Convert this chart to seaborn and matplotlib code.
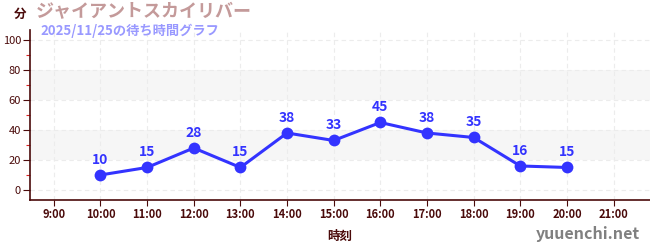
import matplotlib
matplotlib.use("Agg")
import matplotlib.pyplot as plt
import seaborn as sns
import pandas as pd
from matplotlib.ticker import MultipleLocator

hours = [10, 11, 12, 13, 14, 15, 16, 17, 18, 19, 20]
waits = [10, 15, 28, 15, 38, 33, 45, 38, 35, 16, 15]
tick_hours = list(range(9, 22))
tick_labels = [f"{h}:00" for h in tick_hours]
title = "ジャイアントスカイリバー"
subtitle = "2025/11/25の待ち時間グラフ"

sns.set_theme(style="white")
plt.rcParams['font.family'] = ['Noto Sans CJK JP', 'DejaVu Sans']

dark = "#4a0a0a"
blue = "#3333ff"

df = pd.DataFrame({"hour": hours, "wait": waits})
fig = plt.figure(figsize=(6.5, 2.5), dpi=100)
ax = fig.add_axes([30/650, 50/250, 620/650, 170/250])

for lo, hi in [(20, 40), (60, 80)]:
    ax.axhspan(lo, hi, color="#f6f6f6", zorder=0, lw=0)
for y in range(0, 101, 20):
    ax.axhline(y, color="#ececec", ls=(0, (4, 3)), lw=0.8, zorder=0.5)
for h in tick_hours:
    ax.axvline(h, color="#ececec", ls=(0, (4, 3)), lw=0.8, zorder=0.5)

sns.lineplot(data=df, x="hour", y="wait", ax=ax, color=blue, lw=2.2,
             marker="o", markersize=8.5, markeredgewidth=0, zorder=3)
for h, w in zip(hours, waits):
    ax.annotate(str(w), (h, w), xytext=(0, 6), textcoords="offset points",
                ha="center", va="bottom", color=blue, fontsize=10, fontweight="bold")

ax.set_xlim(8.49, 21.78)
ax.set_ylim(-6.7, 106.7)
ax.set_xticks(tick_hours)
ax.set_xticklabels(tick_labels)
ax.yaxis.set_major_locator(MultipleLocator(20))
ax.yaxis.set_minor_locator(MultipleLocator(10))
ax.tick_params(axis="x", colors=dark, labelsize=8, length=4, width=0.8, direction="out", bottom=True, pad=2)
ax.tick_params(axis="y", which="major", colors=dark, labelsize=8, length=5, width=0.8, left=True, pad=1.5)
ax.tick_params(axis="y", which="minor", color="#dd2222", length=3, width=0.8, left=True)
for lab in ax.get_xticklabels():
    lab.set_color(dark)
    lab.set_fontweight("bold")
for lab in ax.get_yticklabels():
    lab.set_color(dark)
for s in ["top", "right"]:
    ax.spines[s].set_visible(False)
for s in ["left", "bottom"]:
    ax.spines[s].set_color(dark)
    ax.spines[s].set_linewidth(1.2)
ax.set_xlabel("時刻", color=dark, fontsize=9, fontweight="bold", labelpad=6)
ax.set_ylabel("")

fig.text(14/650, 1 - 14/250, "分", color=dark, fontsize=9, fontweight="bold", ha="left", va="center")
fig.text(36/650, 1 - 12/250, title, color="#c49a9a", fontsize=13, fontweight="bold", ha="left", va="center")
fig.text(40/650, 1 - 31/250, subtitle, color="#9999ff", fontsize=9.5, fontweight="bold", ha="left", va="center")
fig.text(640/650, 1 - 234/250, "yuuenchi.net", color="#808080", fontsize=11.5, fontweight="bold", ha="right", va="center")

fig.savefig("out.png", dpi=100)
